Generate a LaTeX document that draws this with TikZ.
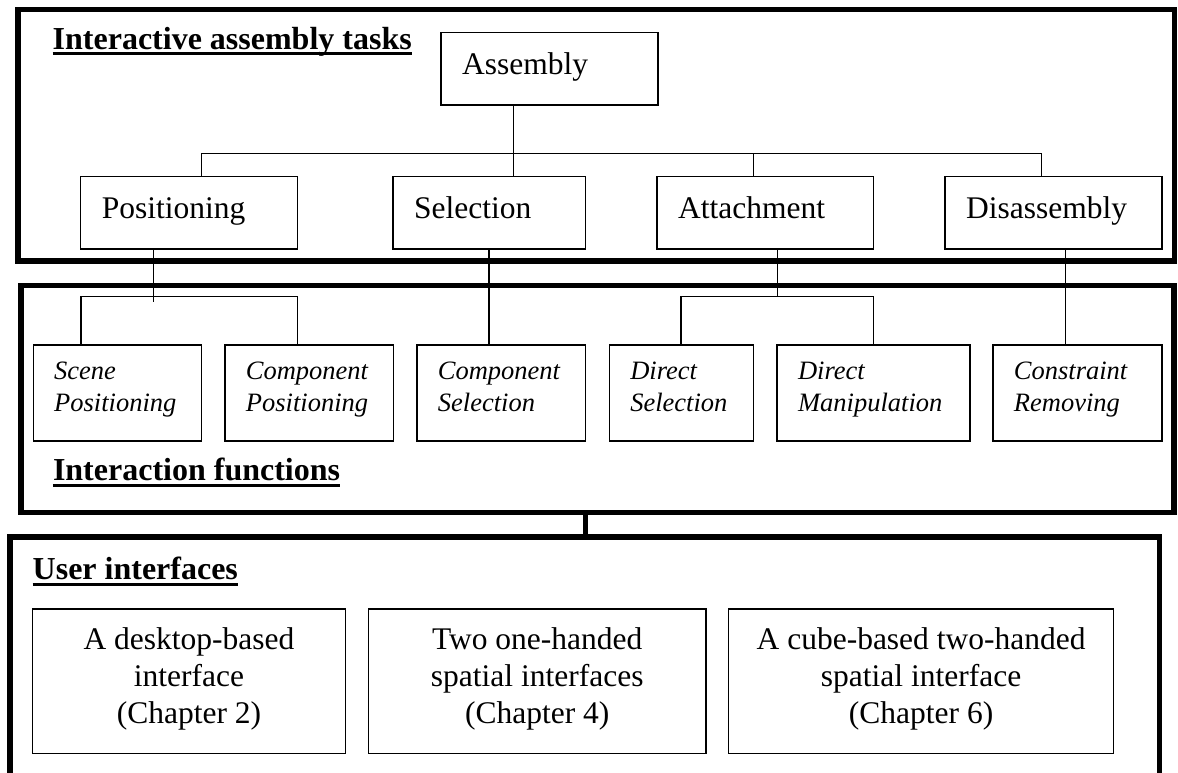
\documentclass[tikz,border=0pt]{standalone}
\usepackage{fontspec}
\setmainfont{Liberation Serif}
\begin{document}
\begin{tikzpicture}[x=1pt,y=-1pt,
  frame/.style={draw, line width=5.5pt, inner sep=0pt, outer sep=0pt, anchor=north west},
  taskbox/.style={draw, line width=1.5pt, inner sep=0pt, outer sep=0pt, anchor=north west},
  link/.style={line width=1.4pt},
  heavylink/.style={line width=4.5pt},
  rulebar/.style={line width=3pt},
  heading/.style={inner sep=0pt, anchor=base west, font=\fontsize{32}{38}\selectfont\bfseries},
  tasklabel/.style={inner sep=0pt, anchor=base west, font=\fontsize{31.5}{37}\selectfont},
  funclabel/.style={inner sep=0pt, anchor=base west, font=\fontsize{26.5}{32.4}\selectfont\itshape},
  uilabel/.style={inner sep=0pt, anchor=base, font=\fontsize{31.5}{37}\selectfont},
]
\useasboundingbox (0,0) rectangle (1178,773);
\clip (0,0) rectangle (1178,773);

% three layer frames
\node[frame, minimum width=1156.5pt, minimum height=251.3pt] (f1) at (18,9.7) {};
\node[frame, minimum width=1153pt, minimum height=227pt] (f2) at (21,285.5) {};
\node[frame, minimum width=1149.5pt, minimum height=300pt] (f3) at (10,537) {};

% layer headings
\node[heading] (h1) at (52.5,49.3) {Interactive assembly tasks};
\draw[rulebar] ([yshift=-4pt]h1.base west) -- ([yshift=-4pt]h1.base east);
\node[heading] (h2) at (52.8,480) {Interaction functions};
\draw[rulebar] ([yshift=-5.5pt]h2.base west) -- ([yshift=-5.5pt]h2.base east);
\node[heading] (h3) at (32.5,579.5) {User interfaces};
\draw[rulebar] ([yshift=-4.5pt]h3.base west) -- ([yshift=-4.5pt]h3.base east);

% assembly tasks
\node[taskbox, minimum width=217pt, minimum height=72.3pt] (asm) at (441,32.7) {};
\node[taskbox, minimum width=217pt, minimum height=72.3pt] (pos) at (80.7,176.7) {};
\node[taskbox, minimum width=192.5pt, minimum height=72.3pt] (sel) at (393,176.7) {};
\node[taskbox, minimum width=216.7pt, minimum height=72.3pt] (att) at (657,176.7) {};
\node[taskbox, minimum width=217pt, minimum height=72.3pt] (dis) at (945,176.7) {};

\foreach \b/\t in {asm/Assembly, pos/Positioning, sel/Selection, att/Attachment, dis/Disassembly}
  \node[tasklabel] (\b-t) at ([xshift=21pt,yshift=-41.5pt]\b.north west) {\t};

% interaction functions
\node[taskbox, minimum width=168.4pt, minimum height=96pt] (sp) at (33.3,345) {};
\node[taskbox, minimum width=168.4pt, minimum height=96pt] (cp) at (225,345) {};
\node[taskbox, minimum width=168.5pt, minimum height=96pt] (cs) at (417,345) {};
\node[taskbox, minimum width=144.1pt, minimum height=96pt] (ds) at (609.4,345) {};
\node[taskbox, minimum width=192.6pt, minimum height=96pt] (dm) at (777.2,345) {};
\node[taskbox, minimum width=169pt, minimum height=96pt] (cr) at (993,345) {};

\foreach \b/\u/\v in {sp/Scene/Positioning, cp/Component/Positioning, cs/Component/Selection,
                      ds/Direct/Selection, dm/Direct/Manipulation, cr/Constraint/Removing}
  \node[funclabel] (\b-t) at ([xshift=20.7pt,yshift=-34.3pt]\b.north west)
    {\begin{tabular}[t]{@{}l@{}}\u\\\v\end{tabular}};

% user interfaces
\node[taskbox, minimum width=313.3pt, minimum height=144.3pt] (ui1) at (32.3,609) {};
\node[taskbox, minimum width=337.4pt, minimum height=144.3pt] (ui2) at (368.5,609) {};
\node[taskbox, minimum width=384.8pt, minimum height=144.3pt] (ui3) at (728.7,609) {};

\node[uilabel] (ui1-t) at ([yshift=-40pt]ui1.north)
  {\begin{tabular}[t]{@{}c@{}}A desktop-based\\interface\\(Chapter 2)\end{tabular}};
\node[uilabel] (ui2-t) at ([yshift=-40pt]ui2.north)
  {\begin{tabular}[t]{@{}c@{}}Two one-handed\\spatial interfaces\\(Chapter 4)\end{tabular}};
\node[uilabel] (ui3-t) at ([yshift=-40pt]ui3.north)
  {\begin{tabular}[t]{@{}c@{}}A cube-based two-handed\\spatial interface\\(Chapter 6)\end{tabular}};

% task tree
\coordinate (tj) at (513.6,153.3);
\coordinate (tl) at (201.7,153.3);
\coordinate (tm) at (753.5,153.3);
\coordinate (tr) at (1041.5,153.3);
\draw[link] (asm.south -| tj) -- (sel.north -| tj);
\draw[link] (tl |- pos.north) -- (tl) -- (tr) -- (tr |- dis.north);
\draw[link] (tm) -- (tm |- att.north);

% tasks down to functions
\coordinate (pj) at (153.5,301.7);
\coordinate (pl) at (81,296.7);
\coordinate (pr) at (297.7,296.7);
\draw[link] (pos.south -| pj) -- (pj);
\draw[link] (pl |- sp.north) -- (pl) -- (pr) -- (pr |- cp.north);

\coordinate (sj) at (489,300);
\draw[link] (sel.south -| sj) -- (cs.north -| sj);

\coordinate (aj) at (777.6,296.7);
\coordinate (al) at (681,296.7);
\coordinate (ar) at (873.7,296.7);
\draw[link] (att.south -| aj) -- (aj);
\draw[link] (al |- ds.north) -- (al) -- (ar) -- (ar |- dm.north);

\coordinate (dj) at (1065.5,300);
\draw[link] (dis.south -| dj) -- (cr.north -| dj);

% functions down to interfaces
\coordinate (fj) at (585.5,525);
\draw[heavylink] (f2.south -| fj) -- (f3.north -| fj);
\end{tikzpicture}
\end{document}
